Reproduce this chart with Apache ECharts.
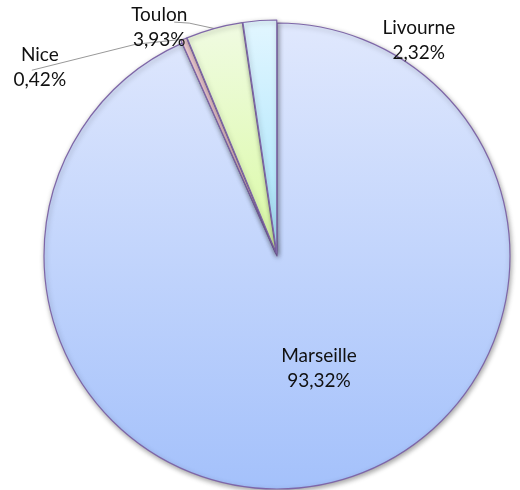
<!DOCTYPE html>
<html>
<head>
<meta charset="utf-8">
<script src="https://cdn.jsdelivr.net/npm/echarts@6/dist/echarts.min.js"></script>
<style>
  html, body, #main { width: 100%; height: 100%; margin: 0; background: #fff; }
</style>
</head>
<body>
<div id="main"></div>
<script>
// ports and their share (%)
var ports = ['Marseille', 'Nice', 'Toulon', 'Livourne']
var shares = [93.32, 0.42, 3.93, 2.32]

// styling, kept apart from the data
var gradients = {
  Marseille: ['#e0e8fd', '#a4c1fb'],
  Nice: ['#fad6dc', '#f6c8d2'],
  Toulon: ['#f0fbe2', '#dafaa4'],
  Livourne: ['#e2f6ff', '#a4e3fb']
}
// wanted centre of each label block
var labelPos = {
  Marseille: [319, 368],
  Nice: [41, 70],
  Toulon: [160, 30],
  Livourne: [419, 43]
}

var chart = echarts.init(document.getElementById('main'))

var data = ports.map(function (name, i) {
  var g = gradients[name]
  return {
    name: name,
    value: shares[i],
    selected: name !== 'Marseille',
    labelLine: { show: name === 'Nice' || name === 'Toulon' },
    itemStyle: {
      color: new echarts.graphic.LinearGradient(0, 0, 0, 1, [
        { offset: 0, color: g[0] },
        { offset: 1, color: g[1] }
      ])
    }
  }
})

chart.setOption({
  backgroundColor: '#fff',
  animation: false,
  series: [{
    type: 'pie',
    center: [277, 256],
    radius: [0, 233],
    startAngle: 90,
    clockwise: true,
    selectedMode: 'multiple',
    selectedOffset: 3,
    avoidLabelOverlap: false,
    itemStyle: {
      borderColor: '#7e66a8',
      borderWidth: 1.2,
      shadowColor: 'rgba(0,0,0,0.35)',
      shadowBlur: 5,
      shadowOffsetX: 1,
      shadowOffsetY: 2
    },
    select: { itemStyle: { borderColor: '#7e66a8', borderWidth: 1.2 } },
    emphasis: { disabled: true },
    label: {
      show: true,
      position: 'outside',
      formatter: function (p) {
        return '{t|' + p.name + '}\n{t|' + p.value.toFixed(2).replace('.', ',') + '%}'
      },
      rich: {
        t: {
          width: 96,
          align: 'center',
          fontFamily: 'Lato',
          fontSize: 19,
          lineHeight: 25,
          color: '#111'
        }
      }
    },
    labelLine: {
      show: true,
      lineStyle: { color: '#999', width: 1 }
    },
    labelLayout: function (p) {
      var name = ports[p.dataIndex]
      var pos = labelPos[name]
      var r = p.labelRect
      var res = {
        dx: pos[0] - (r.x + r.width / 2),
        dy: pos[1] - (r.y + r.height / 2)
      }
      var start = p.labelLinePoints && p.labelLinePoints[0]
      if (start && name === 'Nice') {
        res.labelLinePoints = [start, [137, 47], [33, 73]]
      } else if (start && name === 'Toulon') {
        res.labelLinePoints = [start, [190, 26], [175, 25]]
      }
      return res
    },
    data: data
  }]
})
</script>
</body>
</html>
